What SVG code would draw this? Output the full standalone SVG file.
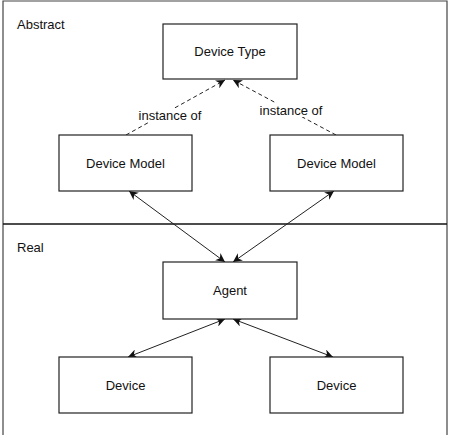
<svg xmlns="http://www.w3.org/2000/svg" width="450" height="435" viewBox="0 0 450 435">
<defs>
<style>
.box{fill:#fff;stroke:#222;stroke-width:1.2}
.frame{fill:none;stroke:#444;stroke-width:1.2}
.t{font-family:"Liberation Sans",Arial,sans-serif;font-size:13px;fill:#111}
.c{text-anchor:middle;dominant-baseline:central}
.ln{stroke:#222;stroke-width:1;fill:none}
.dash{stroke-dasharray:4 3}
</style>
<marker id="ah" viewBox="0 0 10 10" refX="10" refY="5" markerWidth="9" markerHeight="9" markerUnits="userSpaceOnUse" orient="auto-start-reverse">
<path d="M0,0 L10,5 L0,10 L3,5 Z" fill="#111"/>
</marker>
</defs>
<rect width="450" height="435" fill="#fff"/>
<g id="frame">
<path class="frame" d="M3,440 V1 H447 V440"/>
<line x1="3" y1="224" x2="447" y2="224" stroke="#111" stroke-width="1.3"/>
<text class="t" x="17" y="29">Abstract</text>
<text class="t" x="17" y="252">Real</text>
</g>
<g id="connectors">
<line class="ln dash" x1="126" y1="135" x2="225" y2="80" marker-end="url(#ah)"/>
<line class="ln dash" x1="336" y1="135" x2="233" y2="80" marker-end="url(#ah)"/>
<rect x="137" y="108" width="66" height="14" fill="#fff"/>
<text class="t c" x="170" y="115">instance of</text>
<rect x="257" y="103" width="68" height="14" fill="#fff"/>
<text class="t c" x="291" y="110">instance of</text>
<line class="ln" x1="129" y1="191" x2="225" y2="262" marker-start="url(#ah)" marker-end="url(#ah)"/>
<line class="ln" x1="334" y1="191" x2="233" y2="262" marker-start="url(#ah)" marker-end="url(#ah)"/>
<line class="ln" x1="225" y1="319" x2="128" y2="357" marker-start="url(#ah)" marker-end="url(#ah)"/>
<line class="ln" x1="233" y1="319" x2="333" y2="357" marker-start="url(#ah)" marker-end="url(#ah)"/>
</g>
<g id="device-type">
<rect class="box" x="163" y="24" width="134" height="55"/>
<text class="t c" x="230" y="51.5">Device Type</text>
</g>
<g id="device-model-left">
<rect class="box" x="59" y="135" width="133" height="56"/>
<text class="t c" x="125.5" y="163">Device Model</text>
</g>
<g id="device-model-right">
<rect class="box" x="270" y="135" width="133" height="56"/>
<text class="t c" x="336.5" y="163">Device Model</text>
</g>
<g id="agent">
<rect class="box" x="163" y="262" width="134" height="57"/>
<text class="t c" x="230" y="290.5">Agent</text>
</g>
<g id="device-left">
<rect class="box" x="59" y="357" width="133" height="56"/>
<text class="t c" x="125.5" y="385">Device</text>
</g>
<g id="device-right">
<rect class="box" x="270" y="357" width="133" height="56"/>
<text class="t c" x="336.5" y="385">Device</text>
</g>
</svg>
